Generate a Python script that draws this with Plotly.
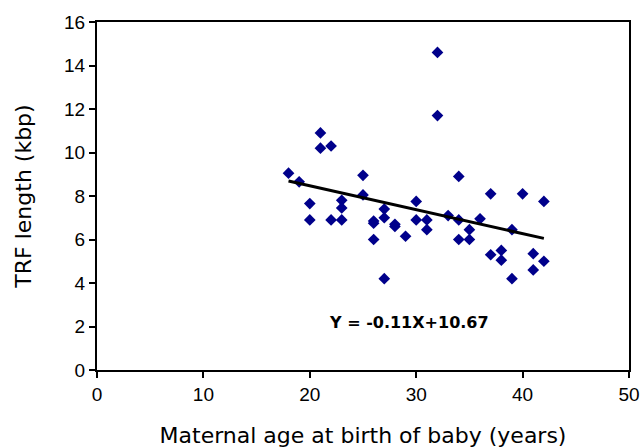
import plotly.graph_objects as go

# Data
maternal_age = [18, 19, 20, 20, 21, 21, 22, 22, 23, 23, 23, 25, 25, 26, 26, 26,
                27, 27, 27, 28, 28, 29, 30, 30, 31, 31, 32, 32, 33, 34, 34, 34,
                35, 35, 36, 37, 37, 38, 38, 39, 39, 40, 41, 41, 42, 42]
trf_length = [9.05, 8.65, 7.65, 6.9, 10.9, 10.2, 10.3, 6.9, 7.8, 7.45, 6.9, 8.95, 8.05, 6.85, 6.75, 6.0,
              7.4, 7.0, 4.2, 6.7, 6.6, 6.15, 7.75, 6.9, 6.9, 6.45, 14.6, 11.7, 7.1, 8.9, 6.9, 6.0,
              6.45, 6.0, 6.95, 8.1, 5.3, 5.5, 5.05, 6.45, 4.2, 8.1, 5.35, 4.6, 7.75, 5.0]

slope = -0.11
intercept = 10.67
equation_text = "Y = -0.11X+10.67"
x_ticks = [0, 10, 20, 30, 40, 50]
y_ticks = [0, 2, 4, 6, 8, 10, 12, 14, 16]

fit_x = [min(maternal_age), max(maternal_age)]
fit_y = [slope * v + intercept for v in fit_x]

fig = go.Figure()
fig.add_trace(go.Scatter(
    x=maternal_age, y=trf_length, mode="markers",
    marker=dict(symbol="diamond", size=9, color="#00008b", line=dict(width=0)),
    showlegend=False, cliponaxis=False))
fig.add_trace(go.Scatter(
    x=fit_x, y=fit_y, mode="lines",
    line=dict(color="black", width=3), showlegend=False))

fig.add_annotation(x=29.3, y=2.2, text="<b>" + equation_text + "</b>", showarrow=False,
                   font=dict(family="DejaVu Sans, sans-serif", size=16, color="black"))

axis_font = dict(family="Liberation Sans, Arial, sans-serif", size=19, color="black")
title_font = dict(family="DejaVu Sans, sans-serif", size=22, color="black")

fig.update_xaxes(range=[0, 50], tickvals=x_ticks, ticks="outside", ticklen=6, tickwidth=1.5,
                 tickcolor="black", showline=True, linecolor="black", linewidth=2, mirror=True,
                 showgrid=False, zeroline=False, tickfont=axis_font, automargin=False,
                 title=dict(text="Maternal age at birth of baby (years)", font=title_font, standoff=24))
fig.update_yaxes(range=[0, 16], tickvals=y_ticks, ticks="outside", ticklen=6, tickwidth=1.5,
                 tickcolor="black", showline=True, linecolor="black", linewidth=2, mirror=True,
                 showgrid=False, zeroline=False, tickfont=axis_font, automargin=False,
                 title=dict(text="TRF length (kbp)", font=title_font, standoff=26))

fig.update_layout(width=642, height=448, margin=dict(l=97, r=13, t=22, b=78),
                  plot_bgcolor="white", paper_bgcolor="white")

# remove the default page margin so the figure sits at the window's top-left corner
fig.write_html("out.html", config={"displayModeBar": False},
               post_script="document.body.style.margin='0';document.body.style.overflow='hidden';")
